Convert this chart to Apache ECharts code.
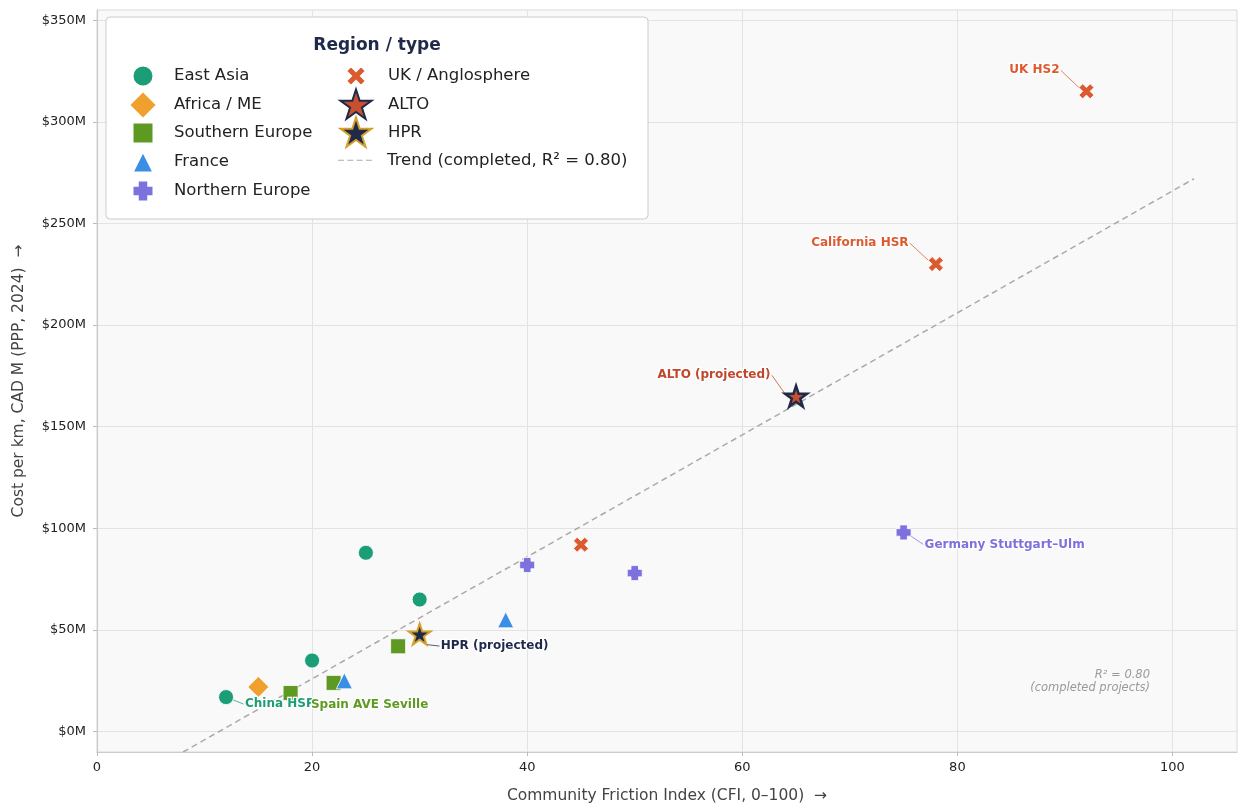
<!DOCTYPE html>
<html><head><meta charset="utf-8">
<script src="https://cdn.jsdelivr.net/npm/echarts@6/dist/echarts.min.js"></script>
<style>html,body{margin:0;padding:0;background:#fff}#c{width:1238px;height:806px}</style>
</head><body><div id="c"></div>
<script>
// ---- data ----
const eastAsiaX = [12, 20, 25, 30];
const eastAsiaY = [17, 35, 88, 65];
const eastAsiaLabels = ['China HSR', '', '', ''];
const africaX = [15];
const africaY = [22];
const africaLabels = [''];
const southX = [18, 22, 28];
const southY = [19, 24, 42];
const southLabels = ['Spain AVE Seville', '', ''];
const franceX = [23, 38];
const franceY = [25, 55];
const franceLabels = ['', ''];
const northX = [40, 50, 75];
const northY = [82, 78, 98];
const northLabels = ['', '', 'Germany Stuttgart–Ulm'];
const ukX = [45, 78, 92];
const ukY = [92, 230, 315];
const ukLabels = ['', 'California HSR', 'UK HS2'];
const altoX = [65];
const altoY = [165];
const altoLabels = ['ALTO (projected)'];
const hprX = [30];
const hprY = [48];
const hprLabels = ['HPR (projected)'];
const trendX = [8, 102];
const trendY = [-10, 272];
const xTicks = [0, 20, 40, 60, 80, 100];
const yTicks = [0, 50, 100, 150, 200, 250, 300, 350];
const trendName = 'Trend (completed, R² = 0.80)';

// ---- styles ----
const FONT = 'DejaVu Sans';
const labelOffsets = {
  'UK HS2': [-52, -21],
  'California HSR': [-76, -21],
  'ALTO (projected)': [-82, -21],
  'Germany Stuttgart–Ulm': [101, 12],
  'HPR (projected)': [75, 12],
  'China HSR': [54, 7],
  'Spain AVE Seville': [79, 12]
};
const starPath = (() => {
  let p = 'path://';
  for (let i = 0; i < 10; i++) {
    const r = i % 2 ? 0.382 : 1;
    const a = -Math.PI / 2 + i * Math.PI / 5;
    p += (i ? 'L' : 'M') + (r * Math.cos(a)).toFixed(4) + ',' + (r * Math.sin(a)).toFixed(4);
  }
  return p + 'Z';
})();
const plusPath = 'path://M1,0H3V1H4V3H3V4H1V3H0V1H1Z';
const xPath = 'path://M1,0L2,1L3,0L4,1L3,2L4,3L3,4L2,3L1,4L0,3L1,2L0,1Z';
const dashPath = 'path://M0,0H6V1H0Z M9.33,0H15.33V1H9.33Z M18.67,0H24.67V1H18.67Z M28,0H34V1H28Z';

function scatter(name, xs, ys, labels, s) {
  return {
    name, type: 'scatter', symbol: s.symbol, symbolSize: s.size, symbolKeepAspect: true,
    z: s.z || 3,
    itemStyle: { color: s.color, borderColor: s.border || '#ffffff', borderWidth: s.bw != null ? s.bw : 0.8, opacity: 1 },
    data: xs.map((x, i) => ({
      value: [x, ys[i]], name: labels[i] || '',
      label: { show: !!labels[i] }, labelLine: { show: !!labels[i] }
    })),
    label: {
      show: false, position: 'inside', formatter: '{b}', color: s.labelColor || s.color,
      fontFamily: FONT, fontWeight: 'bold', fontSize: 12,
      textBorderColor: '#ffffff', textBorderWidth: 2.5
    },
    labelLine: { show: false, lineStyle: { color: s.labelColor || s.color, width: 1, opacity: 0.75 } },
    labelLayout: p => {
      const off = labelOffsets[p.text];
      if (!off) return {};
      return {
        x: p.rect.x + p.rect.width / 2 + off[0],
        y: p.rect.y + p.rect.height / 2 + off[1],
        align: 'center', verticalAlign: 'middle'
      };
    },
    emphasis: { disabled: true }
  };
}

const series = [
  {
    name: trendName, type: 'line', data: trendX.map((x, i) => [x, trendY[i]]),
    symbol: 'none', showSymbol: false, z: 2, silent: true,
    lineStyle: { color: '#aaaaaa', width: 1.5, type: [6, 4] },
    itemStyle: { color: '#aaaaaa' }
  },
  scatter('East Asia', eastAsiaX, eastAsiaY, eastAsiaLabels, { symbol: 'circle', size: 15, color: '#1b9e77' }),
  scatter('Africa / ME', africaX, africaY, africaLabels, { symbol: 'diamond', size: 21, color: '#f0a02c' }),
  scatter('Southern Europe', southX, southY, southLabels, { symbol: 'rect', size: 15, color: '#5e9a22' }),
  scatter('France', franceX, franceY, franceLabels, { symbol: 'triangle', size: 16, color: '#3a8ee6' }),
  scatter('Northern Europe', northX, northY, northLabels, { symbol: plusPath, size: 15, color: '#7d71de' }),
  scatter('UK / Anglosphere', ukX, ukY, ukLabels, { symbol: xPath, size: 15, color: '#dc5a30' }),
  scatter('ALTO', altoX, altoY, altoLabels, { symbol: starPath, size: 22, color: '#c8502e', border: '#1f2a4a', bw: 2.5, labelColor: '#c0472c', z: 5 }),
  scatter('HPR', hprX, hprY, hprLabels, { symbol: starPath, size: 22, color: '#1f2a4a', border: '#d4a02c', bw: 2, labelColor: '#1f2a4a', z: 5 })
];

// legend layout: [name, centerX, centerY, iconSize, textX]
const legendItems = [
  ['East Asia', 142, 75, 21, 173],
  ['Africa / ME', 142, 104, 28, 173],
  ['Southern Europe', 142, 132, 21, 173],
  ['France', 142, 161, 21, 173],
  ['Northern Europe', 142, 190, 21, 173],
  ['UK / Anglosphere', 355, 75, 20, 387],
  ['ALTO', 355, 104, 31, 387],
  ['HPR', 355, 132, 31, 387]
];
const LEG_FS = 16.5;
const legends = legendItems.map(([n, cx, cy, h, tx]) => {
  const left = cx - h / 2;
  const H = Math.max(h, LEG_FS + 2);
  return {
    data: [n], orient: 'vertical', left: left, top: cy - H / 2, padding: 0,
    itemWidth: h, itemHeight: h, selectedMode: false, z: 6,
    textStyle: { fontFamily: FONT, fontSize: LEG_FS, color: '#222222', padding: [0, 0, 0, tx - (left + h + 5)] }
  };
});
legends.push({
  data: [{ name: trendName, icon: dashPath, itemStyle: { color: '#aaaaaa', borderWidth: 0 } }],
  left: 338, top: 161 - (LEG_FS + 2) / 2, padding: 0, itemWidth: 34, itemHeight: 1.5,
  selectedMode: false, z: 6,
  textStyle: { fontFamily: FONT, fontSize: LEG_FS, color: '#222222', padding: [0, 0, 0, 387 - (338 + 34 + 5)] }
});

const option = {
  animation: false,
  backgroundColor: '#ffffff',
  grid: { left: 97, right: 1, top: 10, bottom: 54, outerBoundsMode: 'none', containLabel: false, show: true, backgroundColor: '#f9f9f9', borderColor: '#d9d9d9', borderWidth: 1 },
  xAxis: {
    type: 'value', min: 0, max: 106, interval: 20,
    name: 'Community Friction Index (CFI, 0–100)  →', nameLocation: 'middle', nameGap: 36,
    nameTextStyle: { fontFamily: FONT, fontSize: 15.5, color: '#444444' },
    axisLine: { show: true, onZero: false, lineStyle: { color: '#cccccc', width: 1.2 } },
    axisTick: { show: true, length: 4, lineStyle: { color: '#bbbbbb' }, customValues: xTicks },
    axisLabel: { fontFamily: FONT, fontSize: 13, color: '#222222', margin: 9, customValues: xTicks },
    splitLine: { show: true, lineStyle: { color: '#e3e3e3', width: 1 } }
  },
  yAxis: {
    type: 'value', min: -10, max: 355, splitNumber: 7,
    name: 'Cost per km, CAD M (PPP, 2024)  →', nameLocation: 'middle', nameGap: 70,
    nameTextStyle: { fontFamily: FONT, fontSize: 15.5, color: '#444444' },
    axisLine: { show: true, onZero: false, lineStyle: { color: '#cccccc', width: 1.2 } },
    axisTick: { show: true, length: 4, lineStyle: { color: '#bbbbbb' }, customValues: yTicks },
    axisLabel: { fontFamily: FONT, fontSize: 13, color: '#222222', margin: 11, customValues: yTicks, formatter: v => '$' + v + 'M' },
    splitLine: { show: true, lineStyle: { color: '#e3e3e3', width: 1 } }
  },
  legend: legends,
  graphic: [
    { type: 'rect', z: 4, shape: { x: 106, y: 17, width: 542, height: 202, r: 4 }, style: { fill: '#ffffff', stroke: '#cccccc', lineWidth: 1 } },
    { type: 'text', z: 7, style: { text: 'Region / type', x: 377, y: 46, align: 'center', verticalAlign: 'middle', font: 'bold 17px "DejaVu Sans"', fill: '#1f2a4a' } },
    { type: 'text', z: 7, style: { text: 'R² = 0.80\n(completed projects)', x: 1150, y: 669, align: 'right', verticalAlign: 'top', font: 'italic 11.5px "DejaVu Sans"', fill: '#9a9a9a', lineHeight: 13 } }
  ],
  series
};
const chart = echarts.init(document.getElementById('c'));
chart.setOption(option);
</script>
</body></html>
